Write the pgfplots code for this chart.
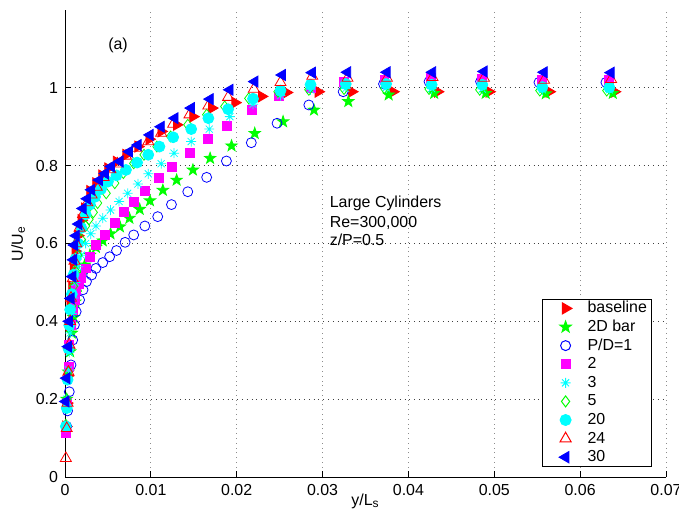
\documentclass[border=0pt]{standalone}
\usepackage{fontspec}
\setmainfont{Liberation Sans}
\usepackage{pgfplots}
\pgfplotsset{compat=1.18}
\definecolor{mred}{rgb}{1,0,0}
\definecolor{mgreen}{rgb}{0,1,0}
\definecolor{mblue}{rgb}{0,0,1}
\definecolor{mmag}{rgb}{1,0,1}
\definecolor{mcyan}{rgb}{0,1,1}

\pgfdeclareplotmark{pstar}{%
  \pgfpathmoveto{\pgfpointpolar{90}{\pgfplotmarksize}}%
  \pgfpathlineto{\pgfpointpolar{126}{0.40\pgfplotmarksize}}%
  \pgfpathlineto{\pgfpointpolar{162}{\pgfplotmarksize}}%
  \pgfpathlineto{\pgfpointpolar{198}{0.40\pgfplotmarksize}}%
  \pgfpathlineto{\pgfpointpolar{234}{\pgfplotmarksize}}%
  \pgfpathlineto{\pgfpointpolar{270}{0.40\pgfplotmarksize}}%
  \pgfpathlineto{\pgfpointpolar{306}{\pgfplotmarksize}}%
  \pgfpathlineto{\pgfpointpolar{342}{0.40\pgfplotmarksize}}%
  \pgfpathlineto{\pgfpointpolar{18}{\pgfplotmarksize}}%
  \pgfpathlineto{\pgfpointpolar{54}{0.40\pgfplotmarksize}}%
  \pgfpathclose
  \pgfusepathqfillstroke}
\pgfdeclareplotmark{ast8}{%
  \pgfpathmoveto{\pgfpoint{-\pgfplotmarksize}{0pt}}\pgfpathlineto{\pgfpoint{\pgfplotmarksize}{0pt}}%
  \pgfpathmoveto{\pgfpoint{0pt}{-\pgfplotmarksize}}\pgfpathlineto{\pgfpoint{0pt}{\pgfplotmarksize}}%
  \pgfpathmoveto{\pgfpoint{-0.707\pgfplotmarksize}{-0.707\pgfplotmarksize}}\pgfpathlineto{\pgfpoint{0.707\pgfplotmarksize}{0.707\pgfplotmarksize}}%
  \pgfpathmoveto{\pgfpoint{-0.707\pgfplotmarksize}{0.707\pgfplotmarksize}}\pgfpathlineto{\pgfpoint{0.707\pgfplotmarksize}{-0.707\pgfplotmarksize}}%
  \pgfusepathqstroke}

\pgfplotsset{lm/.style={only marks,
  legend image code/.code={\path[draw=none,fill=none] (0bp,-3bp) (20bp,3bp);\draw[mark repeat=2,mark phase=2,##1] plot coordinates {(0bp,0bp) (10bp,0bp) (20bp,0bp)};}}}

\begin{document}
\begin{tikzpicture}[font=\fontsize{8}{9.6}\selectfont]
\begin{axis}[
  scale only axis, width=300.5bp, height=233.5bp,
  at={(0,0)}, anchor=south west,
  xmin=0, xmax=0.07, ymin=0, ymax=1.2,
  clip=false,
  axis x line*=bottom, axis y line*=left,
  axis line style={-, black, line width=0.5bp},
  xtick={0,0.01,0.02,0.03,0.04,0.05,0.06,0.07},
  xticklabels={0,0.01,0.02,0.03,0.04,0.05,0.06,0.07},
  ytick={0,0.2,0.4,0.6,0.8,1},
  yticklabels={0,0.2,0.4,0.6,0.8,1},
  scaled x ticks=false, scaled y ticks=false,
  tick align=inside, major tick length=3bp,
  tick style={black, line width=0.5bp},
  grid=major,
  x grid style={black!45, dotted, line width=0.5bp},
  y grid style={black!75, dotted, line width=0.5bp},
  xlabel={y/L\textsubscript{s}},
  ylabel={U/U\textsubscript{e}},
  xlabel style={at={(axis description cs:0.5,-0.036)}, anchor=north, inner sep=0pt},
  ylabel style={at={(axis description cs:-0.078,0.5)}, anchor=center, inner sep=0pt},
  every mark/.append style={line width=0.5bp},
  legend style={at={(rel axis cs:0.9775,0.0214)}, anchor=south east,
    draw=black, line width=0.5bp, inner xsep=1.5bp, inner ysep=0bp,
    row sep=0pt, column sep=0pt,
    nodes={inner sep=1bp, text height=5.9bp, text depth=1.4bp}},
  legend cell align=left,
]
% baseline
\addplot[lm, mark=triangle*, mark size=3.2pt, color=mred, fill=mred, mark options={rotate=-90}] coordinates {
(0.0001,0.13)(0.0002,0.19)(0.0003,0.26)(0.0004,0.33)(0.0005,0.39)(0.0006,0.44)(0.0008,0.49)(0.0010,0.54)(0.0012,0.58)(0.0015,0.62)(0.0019,0.66)(0.0023,0.69)(0.0029,0.735)(0.0036,0.755)(0.0043,0.775)(0.0050,0.793)(0.0060,0.810)(0.0071,0.828)(0.0085,0.849)(0.0098,0.868)(0.0112,0.888)(0.0130,0.905)(0.0149,0.926)(0.0171,0.948)(0.0198,0.962)(0.0229,0.978)(0.0258,0.988)(0.0295,0.990)(0.0334,0.990)(0.0382,0.990)(0.0434,0.990)(0.0494,0.990)(0.0564,0.990)(0.0640,0.990)};
\addlegendentry{baseline}
% 2D bar
\addplot[lm, mark=pstar, mark size=3pt, color=mgreen, fill=mgreen] coordinates {
(0.0002,0.20)(0.0004,0.27)(0.0006,0.322)(0.0008,0.37)(0.0010,0.41)(0.0012,0.45)(0.0015,0.49)(0.0019,0.52)(0.0023,0.545)(0.0029,0.57)(0.0036,0.59)(0.0044,0.607)(0.0053,0.625)(0.0064,0.643)(0.0075,0.665)(0.0087,0.688)(0.0099,0.710)(0.0114,0.737)(0.0130,0.763)(0.0149,0.789)(0.0169,0.819)(0.0194,0.851)(0.0221,0.883)(0.0254,0.913)(0.0290,0.943)(0.0330,0.965)(0.0377,0.982)(0.0430,0.986)(0.0490,0.986)(0.0560,0.985)(0.0638,0.986)};
\addlegendentry{2D bar}
% P/D=1
\addplot[lm, mark=o, mark size=2.5pt, color=mblue] coordinates {
(0.0002,0.13)(0.0003,0.17)(0.0005,0.219)(0.0007,0.288)(0.0009,0.352)(0.0011,0.391)(0.0013,0.425)(0.0017,0.455)(0.0021,0.481)(0.0025,0.502)(0.0031,0.519)(0.0036,0.536)(0.0044,0.551)(0.0052,0.566)(0.0060,0.582)(0.0070,0.603)(0.0080,0.622)(0.0093,0.645)(0.0108,0.669)(0.0124,0.700)(0.0143,0.733)(0.0165,0.770)(0.0188,0.812)(0.0217,0.859)(0.0247,0.909)(0.0284,0.956)(0.0324,0.990)(0.0371,1.010)(0.0424,1.016)(0.0484,1.016)(0.0552,1.014)(0.0630,1.014)};
\addlegendentry{P/D=1}
% 2
\addplot[lm, mark=square*, mark size=2.25pt, color=mmag, fill=mmag] coordinates {
(0.0001,0.112)(0.0002,0.19)(0.0004,0.284)(0.0005,0.34)(0.0007,0.39)(0.0009,0.43)(0.0011,0.455)(0.0013,0.481)(0.0016,0.497)(0.0019,0.511)(0.0024,0.536)(0.0029,0.566)(0.0036,0.596)(0.0046,0.622)(0.0058,0.652)(0.0069,0.680)(0.0080,0.706)(0.0093,0.735)(0.0109,0.768)(0.0125,0.798)(0.0145,0.832)(0.0166,0.868)(0.0189,0.903)(0.0218,0.943)(0.0249,0.978)(0.0286,1.000)(0.0325,1.016)(0.0372,1.020)(0.0426,1.025)(0.0486,1.022)(0.0555,1.020)(0.0634,1.020)};
\addlegendentry{2}
% 3
\addplot[lm, mark=ast8, mark size=2.5pt, color=mcyan] coordinates {
(0.0001,0.13)(0.0002,0.20)(0.0004,0.275)(0.0005,0.32)(0.0006,0.37)(0.0008,0.42)(0.0010,0.46)(0.0012,0.50)(0.0015,0.54)(0.0019,0.57)(0.0024,0.60)(0.0030,0.625)(0.0036,0.645)(0.0044,0.665)(0.0053,0.686)(0.0063,0.708)(0.0073,0.729)(0.0085,0.753)(0.0097,0.779)(0.0112,0.805)(0.0127,0.832)(0.0147,0.862)(0.0168,0.894)(0.0192,0.926)(0.0219,0.958)(0.0251,0.980)(0.0286,0.995)(0.0327,0.998)(0.0374,1.000)(0.0427,0.998)(0.0486,0.997)(0.0556,0.995)(0.0634,0.995)};
\addlegendentry{3}
% 5
\addplot[lm, mark=diamond, mark size=2.75pt, color=mgreen] coordinates {
(0.0001,0.134)(0.0002,0.20)(0.0004,0.27)(0.0005,0.33)(0.0006,0.39)(0.0008,0.44)(0.0010,0.49)(0.0012,0.53)(0.0015,0.57)(0.0019,0.61)(0.0024,0.645)(0.0028,0.662)(0.0033,0.680)(0.0038,0.704)(0.0048,0.729)(0.0058,0.755)(0.0068,0.781)(0.0080,0.806)(0.0092,0.828)(0.0107,0.849)(0.0123,0.875)(0.0143,0.905)(0.0165,0.931)(0.0186,0.952)(0.0214,0.973)(0.0248,0.990)(0.0284,0.995)(0.0325,0.997)(0.0372,0.999)(0.0424,0.997)(0.0483,0.995)(0.0553,0.993)(0.0631,0.993)};
\addlegendentry{5}
% 20
\addplot[lm, mark=*, mark size=2.75pt, color=mcyan, fill=mcyan] coordinates {
(0.0001,0.13)(0.0002,0.177)(0.0003,0.25)(0.0004,0.33)(0.0005,0.39)(0.0006,0.43)(0.0008,0.47)(0.0010,0.52)(0.0012,0.56)(0.0015,0.60)(0.0019,0.64)(0.0024,0.675)(0.0029,0.70)(0.0035,0.72)(0.0042,0.74)(0.0050,0.759)(0.0060,0.775)(0.0071,0.789)(0.0084,0.808)(0.0097,0.828)(0.0110,0.849)(0.0126,0.873)(0.0147,0.894)(0.0167,0.922)(0.0190,0.945)(0.0219,0.972)(0.0251,0.993)(0.0286,1.008)(0.0327,1.010)(0.0374,1.010)(0.0427,1.008)(0.0486,1.008)(0.0556,1.002)(0.0634,1.001)};
\addlegendentry{20}
% 24
\addplot[lm, mark=triangle, mark size=3.2pt, color=mred] coordinates {
(0.0001,0.048)(0.0002,0.125)(0.0003,0.19)(0.0004,0.27)(0.0005,0.34)(0.0006,0.40)(0.0007,0.46)(0.0009,0.51)(0.0011,0.555)(0.0013,0.60)(0.0017,0.64)(0.0021,0.675)(0.0026,0.705)(0.0031,0.725)(0.0037,0.745)(0.0045,0.77)(0.0053,0.79)(0.0061,0.805)(0.0071,0.825)(0.0083,0.845)(0.0097,0.862)(0.0112,0.884)(0.0126,0.907)(0.0145,0.931)(0.0167,0.954)(0.0190,0.976)(0.0220,0.997)(0.0251,1.014)(0.0288,1.030)(0.0329,1.025)(0.0375,1.025)(0.0428,1.027)(0.0488,1.025)(0.0558,1.020)(0.0636,1.022)};
\addlegendentry{24}
% 30
\addplot[lm, mark=triangle*, mark size=3.2pt, color=mblue, fill=mblue, mark options={rotate=90}] coordinates {
(0.0001,0.194)(0.0002,0.254)(0.0004,0.335)(0.0005,0.40)(0.0007,0.459)(0.0009,0.515)(0.0010,0.558)(0.0011,0.596)(0.0013,0.62)(0.0016,0.65)(0.0021,0.69)(0.0026,0.715)(0.0031,0.738)(0.0040,0.763)(0.0047,0.780)(0.0054,0.798)(0.0064,0.811)(0.0075,0.836)(0.0085,0.853)(0.0099,0.879)(0.0112,0.900)(0.0128,0.922)(0.0147,0.948)(0.0169,0.971)(0.0192,0.995)(0.0221,1.016)(0.0253,1.033)(0.0288,1.039)(0.0329,1.040)(0.0375,1.040)(0.0428,1.040)(0.0488,1.042)(0.0558,1.040)(0.0636,1.039)};
\addlegendentry{30}
\node[anchor=base west, inner sep=0pt] at (axis cs:0.0050,1.098) {(a)};
\node[anchor=base west, inner sep=0pt] at (axis cs:0.0308,0.6915) {Large Cylinders};
\node[anchor=base west, inner sep=0pt] at (axis cs:0.0308,0.641) {Re=300,000};
\node[anchor=base west, inner sep=0pt] at (axis cs:0.0308,0.5946) {z/P=0.5};
\end{axis}
\pgfresetboundingbox
\useasboundingbox (-32.5bp,-18.5bp) rectangle (307bp,238.5bp);
\end{tikzpicture}
\end{document}
